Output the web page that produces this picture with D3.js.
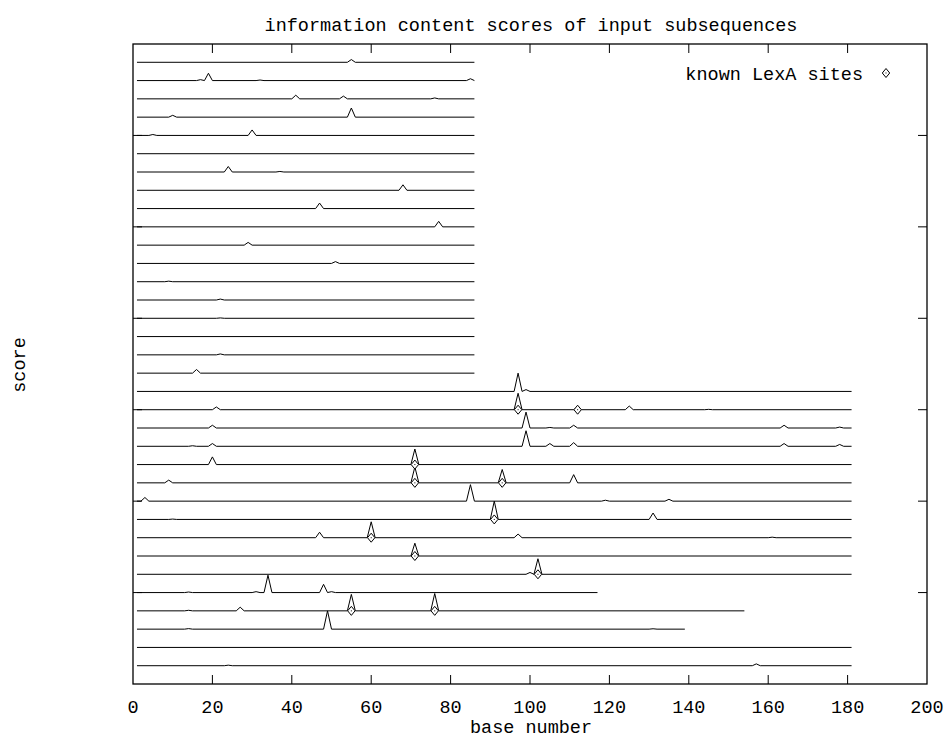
<!DOCTYPE html>
<html>
<head>
<meta charset="utf-8">
<script src="https://cdn.jsdelivr.net/npm/d3@7"></script>
<style>
  body { margin: 0; background: #fff; }
  text { font-family: "Liberation Mono", "DejaVu Sans Mono", monospace; font-size: 18.5px; fill: #000; }
</style>
</head>
<body>
<div></div>
<script>
// one entry per input subsequence, bottom trace first (offset 1, 2, ...)
const seqLengths = [181, 181, 139, 154, 117, 181, 181, 181, 181, 181, 181, 181, 181, 181, 181, 181,
  86, 86, 86, 86, 86, 86, 86, 86, 86, 86, 86, 86, 86, 86, 86, 86, 86, 86];

// [base number, score] of the non-zero scores
const seqPeaks = [
  [[24, 0.03], [157, 0.1]],
  [],
  [[14, 0.03], [49, 1.0], [131, 0.02]],
  [[14, 0.03], [27, 0.2], [55, 0.9], [76, 0.95]],
  [[14, 0.03], [31, 0.05], [34, 0.95], [48, 0.45], [50, 0.05]],
  [[100, 0.1], [102, 0.85]],
  [[71, 0.7]],
  [[47, 0.3], [60, 0.87], [97, 0.2], [161, 0.03]],
  [[10, 0.02], [91, 1.0], [131, 0.35]],
  [[3, 0.2], [85, 0.9], [119, 0.05], [135, 0.1]],
  [[9, 0.15], [71, 0.87], [93, 0.73], [111, 0.45]],
  [[20, 0.42], [71, 0.85]],
  [[15, 0.03], [20, 0.15], [99, 0.85], [105, 0.15], [111, 0.2], [164, 0.15], [178, 0.1]],
  [[20, 0.15], [99, 0.87], [105, 0.03], [111, 0.15], [164, 0.15], [178, 0.05]],
  [[21, 0.15], [97, 0.9], [112, 0.15], [125, 0.2], [145, 0.02]],
  [[97, 1.0], [99, 0.1]],
  [[16, 0.2]],
  [[22, 0.05]],
  [],
  [[22, 0.02]],
  [[22, 0.05]],
  [[9, 0.03]],
  [[51, 0.1]],
  [[29, 0.15]],
  [[77, 0.3]],
  [[47, 0.3]],
  [[68, 0.3]],
  [[24, 0.3], [37, 0.03]],
  [],
  [[5, 0.05], [30, 0.3]],
  [[10, 0.1], [55, 0.5]],
  [[41, 0.2], [53, 0.15], [76, 0.05]],
  [[17, 0.05], [19, 0.4], [32, 0.03], [85, 0.1]],
  [[55, 0.15]]
];

// known LexA sites per subsequence
const lexaSites = [
  [], [], [], [55, 76], [], [102], [71], [60], [91], [], [71, 93], [71], [], [], [97, 112], [],
  [], [], [], [], [], [], [], [], [], [], [], [], [], [], [], [], [], []
];

const xTicks = [0, 20, 40, 60, 80, 100, 120, 140, 160, 180, 200];
const yTicks = [5, 10, 15, 20, 25, 30];

const W = 948, H = 739;
const plotL = 133, plotR = 927, plotT = 44, plotB = 684;

const svg = d3.select("div").append("svg").attr("width", W).attr("height", H);

const x = d3.scaleLinear().domain([0, 200]).range([plotL, plotR]);
const y = d3.scaleLinear().domain([0, 35]).range([plotB, plotT]);

// traces
const line = d3.line().x(d => x(d[0])).y(d => y(d[1]));

seqLengths.forEach((len, i) => {
  const off = i + 1;
  const pts = [[1, off]];
  seqPeaks[i].forEach(p => {
    pts.push([p[0] - 1, off], [p[0], off + p[1]], [p[0] + 1, off]);
  });
  pts.push([len, off]);
  svg.append("path").attr("d", line(pts))
    .attr("fill", "none").attr("stroke", "#000").attr("stroke-width", 1);
});

// LexA site markers
function diamond(g, cx, cy) {
  g.append("path")
    .attr("d", "M" + cx + "," + (cy - 4.5) + "L" + (cx + 3.7) + "," + cy + "L" + cx + "," + (cy + 4.5) + "L" + (cx - 3.7) + "," + cy + "Z")
    .attr("fill", "#fff").attr("stroke", "#000").attr("stroke-width", 1);
  g.append("rect").attr("x", cx - 0.5).attr("y", cy - 0.5).attr("width", 1).attr("height", 1).attr("fill", "#000");
}
const marks = svg.append("g");
lexaSites.forEach((sites, i) => {
  sites.forEach(s => diamond(marks, x(s), y(i + 1)));
});

// frame and ticks
svg.append("rect").attr("x", plotL).attr("y", plotT).attr("width", plotR - plotL).attr("height", plotB - plotT)
  .attr("fill", "none").attr("stroke", "#000").attr("stroke-width", 1.3);

const ticks = svg.append("g").attr("stroke", "#000").attr("stroke-width", 1);
xTicks.slice(1, -1).forEach(t => {
  ticks.append("line").attr("x1", x(t)).attr("x2", x(t)).attr("y1", plotB).attr("y2", plotB - 9);
  ticks.append("line").attr("x1", x(t)).attr("x2", x(t)).attr("y1", plotT).attr("y2", plotT + 9);
});
yTicks.forEach(t => {
  ticks.append("line").attr("x1", plotL).attr("x2", plotL + 9).attr("y1", y(t)).attr("y2", y(t));
  ticks.append("line").attr("x1", plotR).attr("x2", plotR - 9).attr("y1", y(t)).attr("y2", y(t));
});

svg.append("g").selectAll("text").data(xTicks).join("text")
  .attr("x", d => x(d)).attr("y", 713).attr("text-anchor", "middle").text(d => d);

// labels
svg.append("text").attr("x", 531).attr("y", 31).attr("text-anchor", "middle")
  .text("information content scores of input subsequences");
svg.append("text").attr("x", 531).attr("y", 733).attr("text-anchor", "middle").text("base number");
svg.append("text").attr("transform", "translate(25,365) rotate(-90)").attr("text-anchor", "middle").text("score");

// legend
svg.append("text").attr("x", 863).attr("y", 80).attr("text-anchor", "end").text("known LexA sites");
diamond(svg, 886, 73);
</script>
</body>
</html>
